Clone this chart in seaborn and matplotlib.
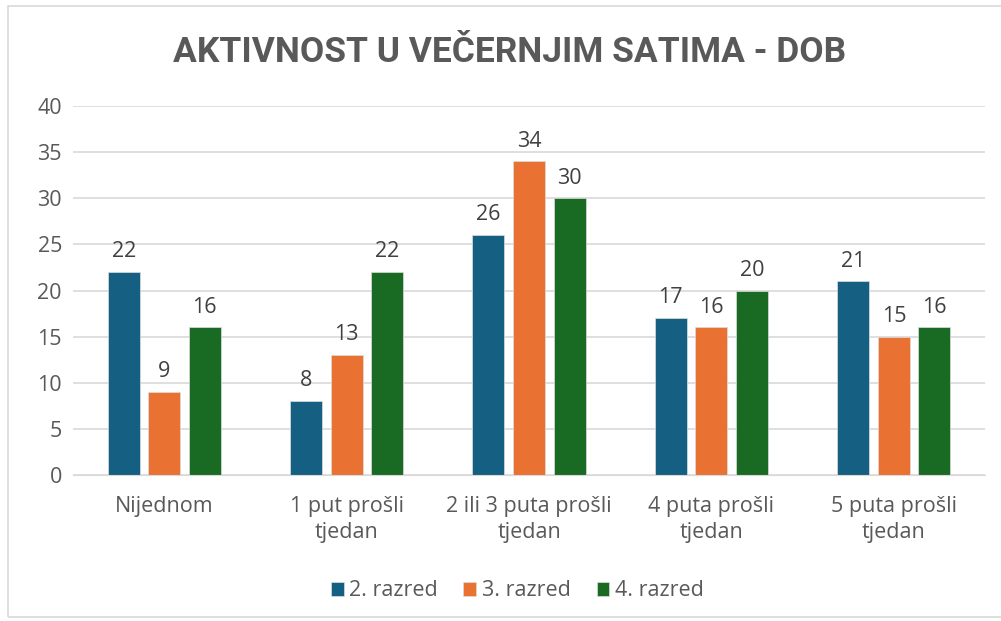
import seaborn as sns
import matplotlib.pyplot as plt
import pandas as pd
from matplotlib.patches import Rectangle

# ---------------------------------------------------
# Daten
# ---------------------------------------------------
categories = ["Nijednom", "1 put prošli\ntjedan", "2 ili 3 puta prošli\ntjedan",
              "4 puta prošli\ntjedan", "5 puta prošli\ntjedan"]
series = ["2. razred", "3. razred", "4. razred"]
razred_2 = [22, 8, 26, 17, 21]
razred_3 = [9, 13, 34, 16, 15]
razred_4 = [16, 22, 30, 20, 16]
colors = ["#156082", "#E97132", "#196B24"]

df = pd.DataFrame({
    "kategorija": categories * 3,
    "razred": [s for s in series for _ in categories],
    "vrijednost": razred_2 + razred_3 + razred_4,
})

TXT = "#595959"
sns.set_style("white")
plt.rcParams["font.family"] = ["Open Sans", "DejaVu Sans"]

fig = plt.figure(figsize=(10.01, 6.21), dpi=100)
ax = fig.add_axes([73 / 1001, 146 / 621, 912 / 1001, 369 / 621])

sns.barplot(data=df, x="kategorija", y="vrijednost", hue="razred",
            palette=colors, width=0.667, gap=0.21, ax=ax, legend=True,
            saturation=1, edgecolor="#dddddd", linewidth=0.5)

for cont in ax.containers:
    ax.bar_label(cont, padding=7, fontsize=15.5, color="#404040")

ax.set_ylim(0, 40)
ax.set_yticks(range(0, 41, 5))
ax.set_xlim(-0.5, len(categories) - 0.5)
ax.yaxis.grid(True, color="#D9D9D9", linewidth=1.2)
ax.set_axisbelow(True)
for s in ["top", "right", "left"]:
    ax.spines[s].set_visible(False)
ax.spines["bottom"].set_color("#D9D9D9")
ax.tick_params(axis="both", length=0, labelsize=15.5, labelcolor=TXT)
ax.tick_params(axis="x", pad=15)
ax.tick_params(axis="y", pad=8)
for lbl in ax.get_xticklabels():
    lbl.set_linespacing(1.35)
ax.set_xlabel("")
ax.set_ylabel("")

leg = ax.legend(loc="center", bbox_to_anchor=(0.487, -0.314), ncol=3, frameon=False,
                fontsize=15.5, handlelength=0.6, handleheight=0.6,
                handletextpad=0.25, columnspacing=1.2)
for t in leg.get_texts():
    t.set_color(TXT)

fig.text(0.509, 1 - 52 / 621, "AKTIVNOST U VEČERNJIM SATIMA - DOB",
         ha="center", va="center", fontsize=25.5, fontweight="bold", color=TXT,
         family=["Roboto", "DejaVu Sans"])

# Rahmen um das Diagramm
fig.patches.append(Rectangle((8 / 1001, 4 / 621), 1.0, 1 - 10 / 621,
                             transform=fig.transFigure, fill=False,
                             edgecolor="#D9D9D9", linewidth=1.2))

fig.savefig("out.png", dpi=100)
